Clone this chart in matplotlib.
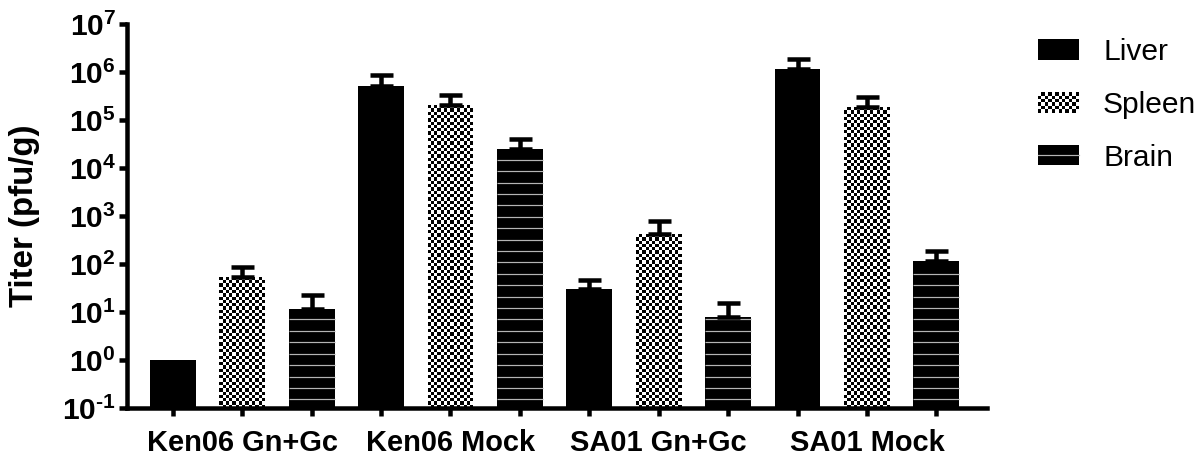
import numpy as np
import matplotlib
matplotlib.use("Agg")
import matplotlib.pyplot as plt
from matplotlib.patches import Rectangle
from matplotlib.lines import Line2D

plt.rcParams['font.family'] = ['Liberation Sans', 'DejaVu Sans']
plt.rcParams['mathtext.fontset'] = 'custom'
plt.rcParams['mathtext.rm'] = 'Liberation Sans:bold'
plt.rcParams['mathtext.bf'] = 'Liberation Sans:bold'
plt.rcParams['mathtext.it'] = 'Liberation Sans:bold'

## data
groups = ['Ken06 Gn+Gc', 'Ken06 Mock', 'SA01 Gn+Gc', 'SA01 Mock']
tissues = ['Liver', 'Spleen', 'Brain']

liver = [1.0, 5.1e5, 30, 1.15e6]
spleen = [54, 2.05e5, 420, 1.87e5]
brain = [11.5, 2.5e4, 7.9, 115]

# top of the (upper only) error bar
liver_top = [1.0, 8.7e5, 46, 1.86e6]
spleen_top = [87, 3.3e5, 790, 3.0e5]
brain_top = [22.6, 4.0e4, 15.4, 187]

ytick_exp = [-1, 0, 1, 2, 3, 4, 5, 6, 7]

W, H, DPI = 1204, 458, 72
BAR_W = 0.66
Y_MIN, Y_MAX = 0.1, 1e7
CHECK_COLS = 14
CHECK_ROWS_PER_DECADE = 14.5
STRIPE_STEP = 11.4  # px between the light lines on the brain bars
STRIPE_COLOR = '#b5b5b5'
LW = 4.5


def checker_bar(ax, xc, top):
    xe = np.linspace(xc - BAR_W / 2, xc + BAR_W / 2, CHECK_COLS + 1)
    n = max(1, int(round(np.log10(top / Y_MIN) * CHECK_ROWS_PER_DECADE)))
    ye = np.logspace(np.log10(Y_MIN), np.log10(top), n + 1)
    c = (np.add.outer(np.arange(n), np.arange(CHECK_COLS)) % 2).astype(float)
    ax.pcolormesh(xe, ye, c, cmap=matplotlib.colors.ListedColormap(['white', 'black']),
                  vmin=0, vmax=1, shading='flat', antialiased=False, zorder=2)


def stripe_bar(ax, xc, top):
    ax.bar(xc, top - Y_MIN, BAR_W, bottom=Y_MIN, color='black', linewidth=0, zorder=2)
    y0 = ax.transData.transform((0, Y_MIN))[1]
    y1 = ax.transData.transform((0, top))[1]
    ys = np.arange(y0 + 8.7, y1 - 2, STRIPE_STEP)
    yd = [ax.transData.inverted().transform((0, y))[1] for y in ys]
    ax.hlines(yd, xc - BAR_W / 2, xc + BAR_W / 2, color=STRIPE_COLOR, linewidth=1.2, zorder=2.5)


class CheckerHandler:
    def legend_artist(self, legend, orig_handle, fontsize, handlebox):
        x0, y0 = -handlebox.xdescent, -handlebox.ydescent
        w, h = handlebox.width, handlebox.height
        tr = handlebox.get_transform()
        bg = Rectangle((x0, y0), w, h, facecolor='white', edgecolor='none', transform=tr)
        handlebox.add_artist(bg)
        nx, ny = 12, 6
        sx, sy = w / nx, h / ny
        for i in range(nx):
            for j in range(ny):
                if (i + j) % 2 == 0:
                    handlebox.add_artist(Rectangle((x0 + i * sx, y0 + j * sy), sx, sy,
                                                   facecolor='black', edgecolor='none', transform=tr))
        return bg


class StripeHandler:
    def legend_artist(self, legend, orig_handle, fontsize, handlebox):
        x0, y0 = -handlebox.xdescent, -handlebox.ydescent
        w, h = handlebox.width, handlebox.height
        tr = handlebox.get_transform()
        bg = Rectangle((x0, y0), w, h, facecolor='black', edgecolor='none', transform=tr)
        handlebox.add_artist(bg)
        handlebox.add_artist(Line2D([x0, x0 + w], [y0 + h / 2, y0 + h / 2], color=STRIPE_COLOR,
                                    linewidth=1.2, transform=tr))
        return bg


fig = plt.figure(figsize=(W / DPI, H / DPI), dpi=DPI)
ax = fig.add_axes([127 / W, 50 / H, (987 - 127) / W, (434 - 50) / H])
ax.set_yscale('log')
ax.set_ylim(Y_MIN, Y_MAX)
ax.set_xlim(-0.66, 11.73)

n_t = len(tissues)
series = [liver, spleen, brain]
tops = [liver_top, spleen_top, brain_top]
for t in range(n_t):
    xs = np.arange(len(groups)) * n_t + t
    vals = np.array(series[t])
    err = np.array(tops[t]) - vals
    if t == 0:
        h_liver = ax.bar(xs, vals - Y_MIN, BAR_W, bottom=Y_MIN, color='black', linewidth=0, zorder=2)
    elif t == 1:
        for xc, v in zip(xs, vals):
            checker_bar(ax, xc, v)
    else:
        for xc, v in zip(xs, vals):
            stripe_bar(ax, xc, v)
    mask = err > 0
    ax.errorbar(xs[mask], vals[mask], yerr=[np.zeros(mask.sum()), err[mask]], fmt='none',
                ecolor='black', elinewidth=LW, capsize=11.5, capthick=LW, zorder=3)

ax.set_ylim(Y_MIN, Y_MAX)
ax.set_xlim(-0.66, 11.73)
ax.set_yticks([10.0 ** e for e in ytick_exp])
ax.set_yticklabels([r'$\mathbf{10^{\text{%d}}}$' % e for e in ytick_exp], fontsize=30)
ax.yaxis.set_minor_locator(matplotlib.ticker.NullLocator())

ax.set_xticks(np.arange(len(groups) * n_t))
labels = [''] * (len(groups) * n_t)
for g, name in enumerate(groups):
    labels[g * n_t + 1] = name
ax.set_xticklabels(labels, fontsize=29, fontweight='bold')

for s in ['top', 'right']:
    ax.spines[s].set_visible(False)
for s in ['left', 'bottom']:
    ax.spines[s].set_linewidth(LW)
ax.tick_params(axis='both', width=LW, length=8, direction='out', color='black')
ax.tick_params(axis='y', pad=3)
ax.tick_params(axis='x', pad=13)

ax.set_ylabel('Titer (pfu/g)', fontsize=33, fontweight='bold', labelpad=22)

# legend with proxy handles
h_sp = Rectangle((0, 0), 1, 1)
h_br = Rectangle((0, 0), 1, 1)
fig.legend([h_liver, h_sp, h_br], tissues, loc='upper left',
           bbox_to_anchor=(1038 / W, 1 - 38 / H), frameon=False, fontsize=30,
           borderpad=0, borderaxespad=0, handlelength=41 / 30, handleheight=20 / 30,
           handletextpad=0.8, labelspacing=0.83,
           handler_map={h_sp: CheckerHandler(), h_br: StripeHandler()})

fig.savefig('out.png', dpi=DPI)
